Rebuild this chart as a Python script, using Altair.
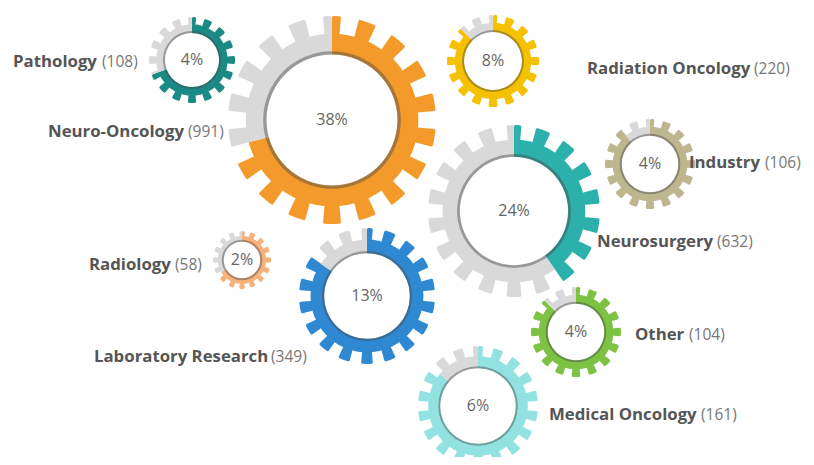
import math
import altair as alt
import pandas as pd

# ---- data ----
categories = ["Pathology", "Neuro-Oncology", "Radiation Oncology", "Industry",
              "Neurosurgery", "Radiology", "Laboratory Research", "Other",
              "Medical Oncology"]
counts = [108, 991, 220, 106, 632, 58, 349, 104, 161]
percents = [4, 38, 8, 4, 24, 2, 13, 4, 6]
filled_deg = [250, 255, 315, 320, 145, 240, 305, 315, 310]

# ---- styles ----
colors = ["#1b8a84", "#f39a2b", "#f6c100", "#bdb68e", "#2cb0ac",
          "#f7b27c", "#2f88d2", "#7dc243", "#92e2e2"]
GRAY = "#d9d9d9"

# ---- layout (page pixels) ----
center_x = [192, 332, 493, 650, 514, 242, 367, 576, 478]
center_y = [60, 120, 61, 164, 211, 260, 296, 332, 406]
outer_r = [43, 104, 46, 45, 86, 29, 68, 45, 60]
name_x = [13, 48, 587, 689, 597, 89, 94, 635, 549]
count_x = [102, 188, 754, 765, 717, 175, 271, 689, 701]
label_y = [62, 132, 69, 163, 242, 265, 357, 335, 415]

# ---- build arc pieces ----
rows = []
rings = []
for i, cat in enumerate(categories):
    R = outer_r[i]
    f = filled_deg[i]
    r_in = 0.63 * R
    r_root = 0.83 * R
    ring = max(2.0, 0.032 * R)

    def add(t0, t1, r0, r1, kind):
        if t1 <= f:
            segs = [(t0, t1, colors[i])]
        elif t0 >= f:
            segs = [(t0, t1, GRAY)]
        else:
            segs = [(t0, f, colors[i]), (f, t1, GRAY)]
        for a, b, c in segs:
            rows.append(dict(cat=cat, cx=center_x[i], cy=center_y[i], t0=a, t1=b,
                             r0=r0, r1=r1, color=c, kind=kind))

    add(0, 360, r_in, r_root, "body")
    n = 16 if R < 50 else 18
    pitch = 360 / n
    half = pitch * 0.25
    for k in range(n):
        c = k * pitch
        a, b = c - half, c + half
        if a < 0:
            add(360 + a, 360, r_root - 1, R, "tooth")
            add(0, b, r_root - 1, R, "tooth")
        else:
            add(a, b, r_root - 1, R, "tooth")
    rings.append(dict(cat=cat, cx=center_x[i], cy=center_y[i], t0=0, t1=360,
                      r0=r_in, r1=r_in + ring))

pieces = pd.DataFrame(rows)
ring_df = pd.DataFrame(rings)
labels = pd.DataFrame(dict(cat=categories, cx=center_x, cy=center_y,
                           pct=[f"{p}%" for p in percents],
                           sx=name_x, ex=count_x, ny=label_y,
                           cnt=[f"({c})" for c in counts]))

xs = alt.Scale(domain=[8, 806], range=[0, 798])
ys = alt.Scale(domain=[8, 457], range=[0, 449])
ts = alt.Scale(domain=[0, 360], range=[0, 2 * math.pi])

def arc_enc():
    return dict(
        x=alt.X("cx:Q", scale=xs, axis=None),
        y=alt.Y("cy:Q", scale=ys, axis=None),
        theta=alt.Theta("t0:Q", scale=ts, stack=None),
        theta2=alt.Theta2("t1:Q"),
        radius=alt.Radius("r1:Q", scale=None),
        radius2=alt.Radius2("r0:Q"),
    )

body = alt.Chart(pieces).transform_filter(alt.datum.kind == "body").mark_arc().encode(
    color=alt.Color("color:N", scale=None), **arc_enc())
teeth = alt.Chart(pieces).transform_filter(alt.datum.kind == "tooth").mark_arc(cornerRadius=1.5).encode(
    color=alt.Color("color:N", scale=None), **arc_enc())
ring_layer = alt.Chart(ring_df).mark_arc(color="#4a4a4a", opacity=0.45).encode(**arc_enc())

pct_text = alt.Chart(labels).mark_text(font="Open Sans", fontSize=16, color="#666666",
                                       baseline="middle", align="center").encode(
    x=alt.X("cx:Q", scale=xs, axis=None), y=alt.Y("cy:Q", scale=ys, axis=None), text="pct:N")
name_text = alt.Chart(labels).mark_text(font="Open Sans", fontSize=16.8, fontWeight="bold",
                                        color="#555555", baseline="middle", align="left").encode(
    x=alt.X("sx:Q", scale=xs, axis=None), y=alt.Y("ny:Q", scale=ys, axis=None), text="cat:N")
cnt_text = alt.Chart(labels).mark_text(font="Open Sans", fontSize=15.5, color="#777777",
                                       baseline="middle", align="left").encode(
    x=alt.X("ex:Q", scale=xs, axis=None), y=alt.Y("ny:Q", scale=ys, axis=None), text="cnt:N")

chart = alt.layer(body, teeth, ring_layer, pct_text, name_text, cnt_text).properties(
    width=798, height=449, autosize=alt.AutoSizeParams(type="none"), padding=0,
    background="white"
).configure_view(stroke=None)

chart.save("out.html", embed_options={"renderer": "svg", "actions": False})
